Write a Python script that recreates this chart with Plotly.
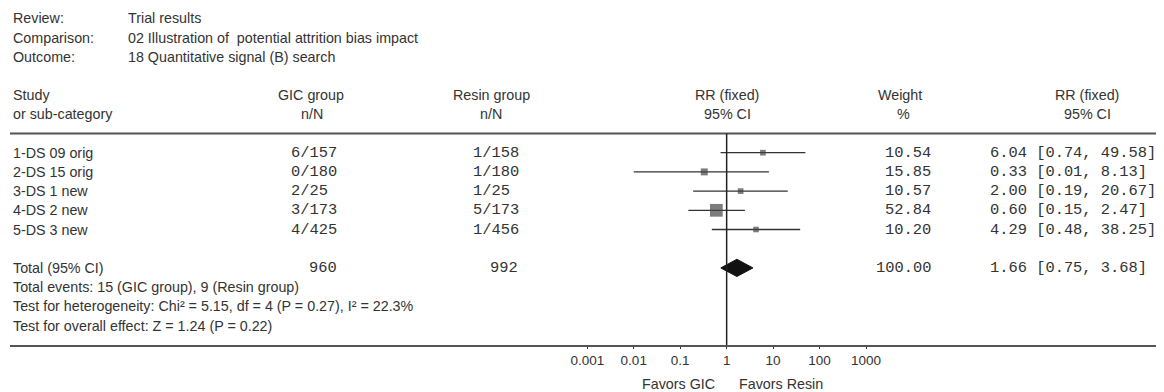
import math
import plotly.graph_objects as go

# ---------------- data ----------------
header_labels = ["Review:", "Comparison:", "Outcome:"]
header_values = ["Trial results",
                 "02 Illustration of  potential attrition bias impact",
                 "18 Quantitative signal (B) search"]

studies = ["1-DS 09 orig", "2-DS 15 orig", "3-DS 1 new", "4-DS 2 new", "5-DS 3 new"]
gic_nN = ["6/157", "0/180", "2/25", "3/173", "4/425"]
resin_nN = ["1/158", "1/180", "1/25", "5/173", "1/456"]
weights = [10.54, 15.85, 10.57, 52.84, 10.20]
rr = [6.04, 0.33, 2.00, 0.60, 4.29]
ci_low = [0.74, 0.01, 0.19, 0.15, 0.48]
ci_high = [49.58, 8.13, 20.67, 2.47, 38.25]

total_label = "Total (95% CI)"
total_gic = 960
total_resin = 992
total_weight = 100.00
total_rr = 1.66
total_low = 0.75
total_high = 3.68
footer_lines = ["Total events: 15 (GIC group), 9 (Resin group)",
                "Test for heterogeneity: Chi² = 5.15, df = 4 (P = 0.27), I² = 22.3%",
                "Test for overall effect: Z = 1.24 (P = 0.22)"]

tick_vals = [0.001, 0.01, 0.1, 1, 10, 100, 1000]
tick_text = ["0.001", "0.01", "0.1", "1", "10", "100", "1000"]
null_value = 1
favors_left = "Favors GIC"
favors_right = "Favors Resin"

# ---------------- layout constants (page pixel positions) ----------------
PAGE_W, PAGE_H = 1164, 392
OFF = 8                      # default body margin of the html page
W, H = PAGE_W - OFF, PAGE_H - OFF
SANS = "Liberation Sans, Arial, sans-serif"
MONO = "Liberation Mono, Courier New, monospace"
TXT = "#333333"
FS = 14.3
FM = 15.4

PX_PER_DEC = 46.45
X1_PX = 726.65
LEFT_PX = 10
ROW0_PX = 152.7
ROW_H = 19.2
PLOT_B = 345                 # page y of the axis line


def px(p):
    """page x pixel -> paper fraction"""
    return (p - OFF) / W


def row_of_px(p):
    return (p - ROW0_PX) / ROW_H


plot_h = PLOT_B - OFF


def paper_y(p):
    return (PLOT_B - p) / plot_h


fig = go.Figure()

# CI lines
lx, ly = [], []
for i in range(len(studies)):
    lx += [ci_low[i], ci_high[i], None]
    ly += [i, i, None]
fig.add_trace(go.Scatter(x=lx, y=ly, mode="lines",
                         line=dict(color="#333333", width=1.3),
                         hoverinfo="skip", showlegend=False))

# study squares
fig.add_trace(go.Scatter(x=rr, y=list(range(len(studies))), mode="markers",
                         marker=dict(symbol="square", color="#444444",
                                     size=[1.75 * math.sqrt(w) for w in weights],
                                     line=dict(width=0)),
                         showlegend=False))

# total diamond
tot_row = 6
dh = 0.45
fig.add_trace(go.Scatter(x=[total_low, total_rr, total_high, total_rr, total_low],
                         y=[tot_row, tot_row - dh, tot_row, tot_row + dh, tot_row],
                         mode="lines", fill="toself", fillcolor="#111111",
                         line=dict(color="#111111", width=1),
                         showlegend=False, hoverinfo="skip"))

ann = []


def add(text, x, y, anchor="left", font=SANS, size=FS, yref="y"):
    ann.append(dict(text=text, x=x, y=y, xref="paper", yref=yref,
                    xanchor=anchor, yanchor="middle", showarrow=False,
                    font=dict(family=font, size=size, color=TXT)))


# header block
for k, (lab, val) in enumerate(zip(header_labels, header_values)):
    add(lab, px(11), -7 + k)
    add(val, px(126), -7 + k)

# column headers
add("Study", px(11), -3)
add("or sub-category", px(11), -2)
add("GIC group", px(311), -3, "center")
add("n/N", px(312), -2, "center")
add("Resin group", px(491), -3, "center")
add("n/N", px(491), -2, "center")
add("RR (fixed)", px(727), -3, "center")
add("95% CI", px(727), -2, "center")
add("Weight", px(900), -3, "center")
add("%", px(903), -2, "center")
add("RR (fixed)", px(1087), -3, "center")
add("95% CI", px(1087), -2, "center")

# study rows
for i in range(len(studies)):
    add(studies[i], px(11), i)
    add(gic_nN[i], px(289), i, font=MONO, size=FM)
    add(resin_nN[i], px(471), i, font=MONO, size=FM)
    add(f"{weights[i]:.2f}", px(933), i, "right", MONO, FM)
    add(f"{rr[i]:.2f} [{ci_low[i]:.2f}, {ci_high[i]:.2f}]", px(988), i, font=MONO, size=FM)

# total rows
add(total_label, px(11), tot_row)
add(str(total_gic), px(339), tot_row, "right", MONO, FM)
add(str(total_resin), px(520), tot_row, "right", MONO, FM)
add(f"{total_weight:.2f}", px(933), tot_row, "right", MONO, FM)
add(f"{total_rr:.2f} [{total_low:.2f}, {total_high:.2f}]", px(988), tot_row, font=MONO, size=FM)
for k, line in enumerate(footer_lines):
    add(line, px(11), tot_row + 1 + k)

# favours labels (below the axis); annotation x on a log axis is given in log10 units
fav_y = paper_y(384)
ann.append(dict(text=favors_left, x=math.log10(null_value), y=fav_y, xref="x", yref="paper",
                xanchor="right", yanchor="middle", xshift=-10, showarrow=False,
                font=dict(family=SANS, size=FS, color=TXT)))
ann.append(dict(text=favors_right, x=math.log10(null_value), y=fav_y, xref="x", yref="paper",
                xanchor="left", yanchor="middle", xshift=10, showarrow=False,
                font=dict(family=SANS, size=FS, color=TXT)))

shapes = [
    # header rule
    dict(type="line", xref="paper", yref="y", x0=px(10), x1=1, y0=-1, y1=-1,
         line=dict(color="#555555", width=2)),
    # line of no effect
    dict(type="line", xref="x", yref="y", x0=null_value, x1=null_value,
         y0=-1, y1=row_of_px(PLOT_B),
         line=dict(color="#222222", width=1.5)),
]

x_lo = (LEFT_PX - X1_PX) / PX_PER_DEC
x_hi = (PAGE_W - X1_PX) / PX_PER_DEC

fig.update_layout(
    width=W, height=H,
    margin=dict(l=0, r=0, t=0, b=PAGE_H - PLOT_B, pad=0),
    paper_bgcolor="white", plot_bgcolor="white",
    annotations=ann, shapes=shapes, showlegend=False,
    xaxis=dict(type="log", range=[x_lo, x_hi], domain=[px(LEFT_PX), 1],
               showgrid=False, zeroline=False, showline=True,
               linecolor="#555555", linewidth=2,
               ticks="outside", ticklen=2, tickcolor="#333333", tickwidth=1,
               tickvals=tick_vals, ticktext=tick_text,
               tickfont=dict(family=SANS, size=13.5, color=TXT)),
    yaxis=dict(range=[row_of_px(PLOT_B), row_of_px(OFF)], visible=False,
               showgrid=False, zeroline=False),
)

fig.write_html("out.html")
